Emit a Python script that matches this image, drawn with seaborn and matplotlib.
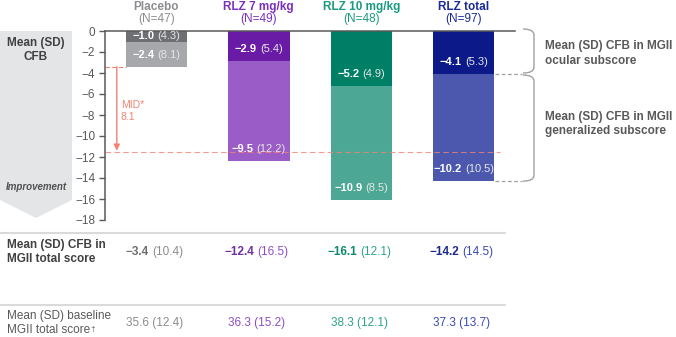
import numpy as np
import pandas as pd
import matplotlib
matplotlib.use("Agg")
import matplotlib.pyplot as plt
import seaborn as sns
from matplotlib.path import Path
from matplotlib.patches import PathPatch, Polygon
from matplotlib.transforms import offset_copy

# --- data ---
groups = ["Placebo", "RLZ 7 mg/kg", "RLZ 10 mg/kg", "RLZ total"]
n_pts = [47, 49, 48, 97]
ocular_mean = [-1.0, -2.9, -5.2, -4.1]
ocular_sd = [4.3, 5.4, 4.9, 5.3]
gen_mean = [-2.4, -9.5, -10.9, -10.2]
gen_sd = [8.1, 12.2, 8.5, 10.5]
total_mean = [-3.4, -12.4, -16.1, -14.2]
total_sd = [10.4, 16.5, 12.1, 14.5]
base_mean = [35.6, 36.3, 38.3, 37.3]
base_sd = [12.4, 15.2, 12.1, 13.7]
mid_value = 8.1

# --- colours ---
dark_cols = ["#6E6F72", "#6A1BA6", "#007F67", "#0B1A88"]
light_cols = ["#A6A8AB", "#9A5CC6", "#4CA895", "#4B58AD"]
head_cols = ["#8C8D90", "#7B2FBE", "#1A9B80", "#1B2A96"]
tab_bold_cols = ["#6E6F72", "#7030A0", "#0E8A6E", "#1B2A8A"]
tab_cols = ["#8C8C8C", "#8E4CC4", "#2FA38A", "#3A4AB0"]
salmon = "#F08272"
grey_line = "#A0A0A0"
axis_col = "#595959"

sns.set_theme(style="white")
plt.rcParams['font.family'] = ['Liberation Sans', 'DejaVu Sans']

W, H = 676, 337
fig = plt.figure(figsize=(W / 100, H / 100), dpi=100)

# overlay axes in pixel coordinates for decorations / table
ov = fig.add_axes([0, 0, 1, 1])
ov.set_xlim(0, W)
ov.set_ylim(H, 0)
ov.axis("off")
ov.patch.set_alpha(0)

# main bar axes
ax = fig.add_axes([105 / W, (H - 220) / H, 410 / W, 189 / H])
ax.patch.set_alpha(0)

df = pd.DataFrame({
    "group": groups,
    "ocular": ocular_mean,
    "stack": np.array(ocular_mean) + np.array(gen_mean),
})

sns.barplot(data=df, x="group", y="stack", hue="group", order=groups,
            palette=light_cols, width=0.6, dodge=False, legend=False,
            saturation=1, linewidth=0, edgecolor="none", ax=ax)
sns.barplot(data=df, x="group", y="ocular", hue="group", order=groups,
            palette=dark_cols, width=0.6, dodge=False, legend=False,
            saturation=1, linewidth=0, edgecolor="none", ax=ax)

ax.set_xlim(-0.5, 3.5)
ax.set_ylim(-18, 0)
ax.set_yticks(np.arange(0, -19, -2))
ax.set_xticks([])
ax.set_xlabel("")
ax.set_ylabel("")
ax.tick_params(axis="y", left=True, length=4, width=1, color=axis_col,
               labelsize=8.5, labelcolor=axis_col, pad=3)
for s in ["right", "bottom"]:
    ax.spines[s].set_visible(False)
for s in ["left", "top"]:
    ax.spines[s].set_color(axis_col)
    ax.spines[s].set_linewidth(1.1)

renderer = fig.canvas.get_renderer()


def fmt(v):
    return f"{v:.1f}".replace("-", "\u2212")


def mixed_text(axes, x, y, bold, normal, cb, cn, size, trans=None, ha="center"):
    trans = trans if trans is not None else axes.transData
    t1 = axes.text(x, y, bold, fontsize=size, fontweight="bold", color=cb,
                   ha="left", va="center", transform=trans, clip_on=False)
    t2 = axes.text(x, y, normal, fontsize=size, color=cn, ha="left",
                   va="center", transform=trans, clip_on=False)
    w1 = t1.get_window_extent(renderer).width
    w2 = t2.get_window_extent(renderer).width
    gap = 0.28 * size * 100 / 72
    total = w1 + gap + w2
    start = -total / 2 if ha == "center" else 0
    t1.set_transform(offset_copy(trans, fig=fig, x=start, y=0, units="dots"))
    t2.set_transform(offset_copy(trans, fig=fig, x=start + w1 + gap, y=0, units="dots"))


def to_px(xd, yd):
    xp, yp = ax.transData.transform((xd, yd))
    return xp, H - yp


# bar labels
for i in range(len(groups)):
    top0, bot0 = 0.0, ocular_mean[i]
    top1, bot1 = ocular_mean[i], ocular_mean[i] + gen_mean[i]
    y0 = min(bot0 + 1.15, (top0 + bot0) / 2)
    y1 = min(bot1 + 1.15, (top1 + bot1) / 2)
    mixed_text(ax, i, y0, fmt(ocular_mean[i]), f"({ocular_sd[i]:.1f})",
               "white", "#E6E6E6", 8)
    mixed_text(ax, i, y1, fmt(gen_mean[i]), f"({gen_sd[i]:.1f})",
               "white", "#E6E6E6", 8)

# MID arrow and dashed lines
base = ocular_mean[0] + gen_mean[0]
mid_line = base - mid_value
xa = -0.385
ax.plot([-0.5, -0.3], [base, base], ls=(0, (4, 2)), color=salmon, lw=0.8,
        clip_on=False)
ax.plot([-0.5, 3.35], [mid_line, mid_line], ls=(0, (5, 3)), color=salmon,
        lw=0.8, alpha=0.8, clip_on=False)
ax.annotate("", xy=(xa, mid_line + 0.1), xytext=(xa, base),
            arrowprops=dict(arrowstyle="-|>", color=salmon, lw=1,
                            mutation_scale=9, shrinkA=0, shrinkB=0))
ax.text(xa + 0.04, -7.6, "MID*\n" + f"{mid_value:.1f}", color=salmon,
        fontsize=7.5, ha="left", va="center", linespacing=1.2)

# grey dashed lines to braces
tot_bot = ocular_mean[3] + gen_mean[3]
for yv in [ocular_mean[3], tot_bot]:
    ax.plot([3.3, 3.57], [yv, yv], ls=(0, (3, 2)), color=grey_line, lw=0.9,
            clip_on=False)

# headers
for i, g in enumerate(groups):
    xp, _ = to_px(i, 0)
    ov.text(xp, 7, g, ha="center", va="center", fontsize=8.5,
            fontweight="bold", color=head_cols[i])
    ov.text(xp, 19, f"(N={n_pts[i]})", ha="center", va="center",
            fontsize=8.5, color=head_cols[i])

# left grey panel with chevron
ov.add_patch(Polygon([(0, 31), (72, 31), (72, 200), (36, 218), (0, 200)],
                     closed=True, facecolor="#E4E5E6", edgecolor="none"))
ov.text(36, 50, "Mean (SD)\nCFB", ha="center", va="center", fontsize=8.5,
        fontweight="bold", color="#404040", linespacing=1.3)
ov.text(36, 187, "Improvement", ha="center", va="center", fontsize=7,
        fontweight="bold", style="italic", color="#505050")


# braces
def brace(y_top, y_bot, x0=523, x1=534, r=6):
    verts = [(x0, y_top), (x1, y_top), (x1, y_top + r),
             (x1, y_bot - r), (x1, y_bot), (x0, y_bot)]
    codes = [Path.MOVETO, Path.CURVE3, Path.CURVE3,
             Path.LINETO, Path.CURVE3, Path.CURVE3]
    ov.add_patch(PathPatch(Path(verts, codes), facecolor="none",
                           edgecolor=grey_line, lw=1))


_, yp0 = to_px(0, 0)
_, yp1 = to_px(0, ocular_mean[3])
_, yp2 = to_px(0, tot_bot)
brace(yp0 - 2, yp1 - 1)
brace(yp1 + 1, yp2)
ov.text(545, (yp0 + yp1) / 2 + 1, "Mean (SD) CFB in MGII\nocular subscore",
        ha="left", va="center", fontsize=8.5, fontweight="bold",
        color="#595959", linespacing=1.25)
ov.text(545, 124, "Mean (SD) CFB in MGII\ngeneralized subscore",
        ha="left", va="center", fontsize=8.5, fontweight="bold",
        color="#595959", linespacing=1.25)

# table
for yl in [233, 305]:
    ov.plot([0, 505], [yl, yl], color="#DADADA", lw=1.5)
ov.text(7, 252, "Mean (SD) CFB in\nMGII total score", ha="left", va="center",
        fontsize=8.5, fontweight="bold", color="#404040", linespacing=1.3)
ov.text(7, 316, "Mean (SD) baseline", ha="left", va="center", fontsize=8.5,
        color="#595959")
t_last = ov.text(7, 330, "MGII total score", ha="left", va="center",
                 fontsize=8.5, color="#595959")
ov.annotate("\u2020", xy=(1, 0.55), xycoords=t_last, xytext=(0.5, 0),
            textcoords="offset points", ha="left", va="center", fontsize=6,
            color="#595959")
for i in range(len(groups)):
    xp, _ = to_px(i, 0)
    mixed_text(ov, xp - 2, 252, fmt(total_mean[i]), f"({total_sd[i]:.1f})",
               tab_bold_cols[i], tab_cols[i], 8.5)
    ov.text(xp - 2, 323, f"{base_mean[i]:.1f} ({base_sd[i]:.1f})",
            ha="center", va="center", fontsize=8.5, color=tab_cols[i])

fig.savefig("out.png", dpi=100)
